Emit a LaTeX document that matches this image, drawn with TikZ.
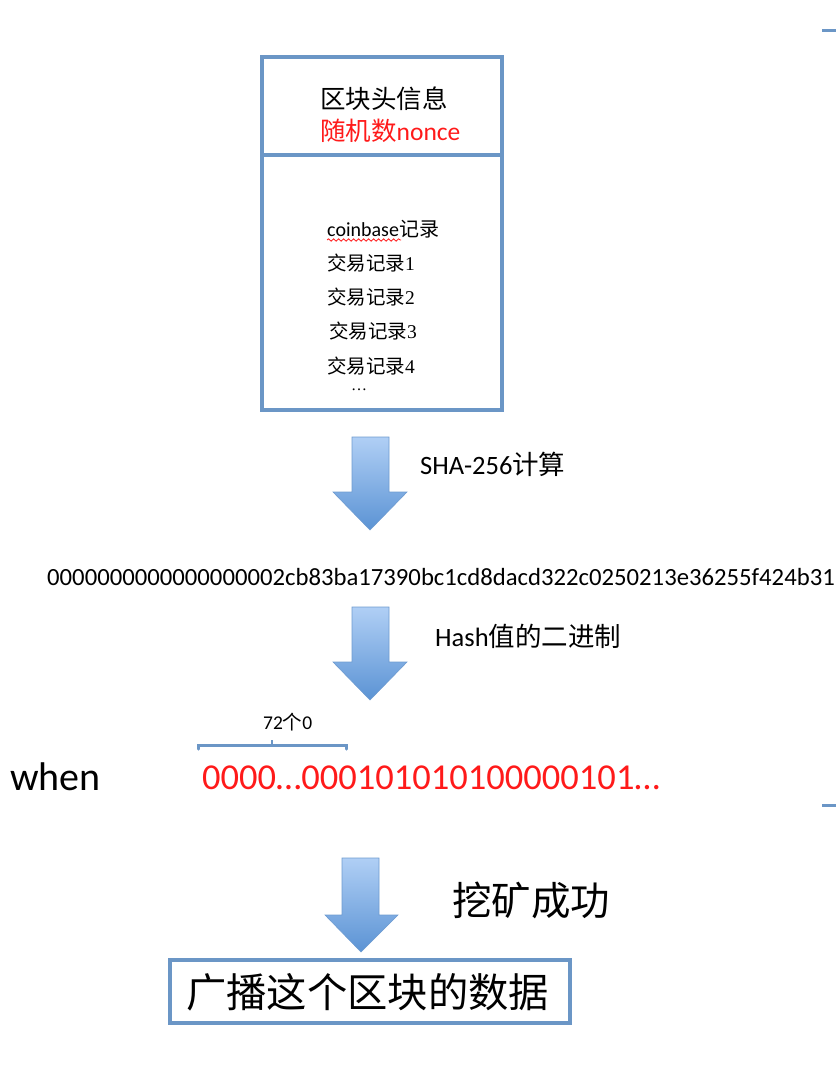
\documentclass[tikz,border=0pt]{standalone}
\usepackage{fontspec}
\setmainfont{Carlito}
\newfontfamily\cjk{Noto Sans CJK SC}
\newfontfamily\lat{Carlito}
\newfontfamily\ser{Liberation Serif}
\usetikzlibrary{decorations.pathmorphing}
\definecolor{boxblue}{HTML}{6B96C6}
\definecolor{arrtop}{HTML}{B0CFF5}
\definecolor{arrbot}{HTML}{5B93D4}
\definecolor{arredge}{HTML}{6E9BD0}
\definecolor{red1}{HTML}{FF1A1A}
\tikzset{
  frame/.style={draw=boxblue, line width=3.5pt},
  blockarrow/.style={top color=arrtop, bottom color=arrbot, draw=arredge, line width=0.6pt},
  fs/.style={font=\fontsize{#1}{#1}\selectfont},
  txt/.style={inner sep=0pt, anchor=west}
}
\begin{document}
\begin{tikzpicture}[x=1pt,y=-1pt]
\useasboundingbox (0,0) rectangle (836,1092);
% block box
\draw[frame] (262,57) rectangle (502,410);
\draw[frame] (262,155) -- (502,155);
\node[txt, fs=25.5] (hdr) at (320,99) {\cjk 区块头信息};
\node[txt, fs=25.5, text=red1] (nonce) at (320,131) {\cjk 随机数\lat nonce};
\node[txt, fs=20] (cb) at (327,229) {\lat coinbase\cjk 记录};
\draw[red1, line width=0.8pt, decorate, decoration={snake, amplitude=1.2pt, segment length=5pt}] (327,240) -- (401,240);
\node[txt, fs=19.5] (t1) at (327,263) {\cjk 交易记录\ser 1};
\node[txt, fs=19.5] (t2) at (327,297) {\cjk 交易记录\ser 2};
\node[txt, fs=19.5] (t3) at (329,331) {\cjk 交易记录\ser 3};
\node[txt, fs=19.5] (t4) at (327,366) {\cjk 交易记录\ser 4};
\node[txt, fs=16] (dots) at (351,390) {\ser …};
% arrow 1
\draw[blockarrow] (352,437) -- (389,437) -- (389,492) -- (407,492) -- (370,530) -- (333,492) -- (352,492) -- cycle;
\node[txt, fs=26.5] (sha) at (420,464) {\lat SHA-256\cjk 计算};
% hash
\node[txt, fs=24.7] (hash) at (47,577) {\lat 0000000000000000002cb83ba17390bc1cd8dacd322c0250213e36255f424b31};
% arrow 2
\draw[blockarrow] (352,607) -- (389,607) -- (389,662) -- (407,662) -- (370,700) -- (333,662) -- (352,662) -- cycle;
\node[txt, fs=26.5] (bin) at (435,636) {\lat Hash\cjk 值的二进制};
% 72 zeros brace
\node[txt, fs=19.5] (n72) at (263,722) {\lat 72\cjk 个\lat 0};
\draw[boxblue, line width=3pt, line cap=round] (198,749) -- (198,745) -- (346,745) -- (346,749);
\draw[boxblue, line width=2pt] (272,745) -- (272,740);
\node[txt, fs=40] (when) at (10,777) {\lat when};
\node[txt, fs=36.5, text=red1] (bits) at (202,778) {\lat 0000…000101010100000101…};
% arrow 3
\draw[blockarrow] (342,858) -- (379,858) -- (379,915) -- (398,915) -- (361,952) -- (325,915) -- (342,915) -- cycle;
\node[txt, fs=39.5] (ok) at (452,900) {\cjk 挖矿成功};
% bottom box
\draw[frame] (170,960) rectangle (570,1023);
\node[txt, fs=40.3] (bcast) at (186,992) {\cjk 广播这个区块的数据};
% right edge marks
\draw[boxblue, line width=3pt] (822,30) -- (836,30);
\draw[boxblue, line width=3pt] (822,805) -- (836,805);
\end{tikzpicture}
\end{document}
